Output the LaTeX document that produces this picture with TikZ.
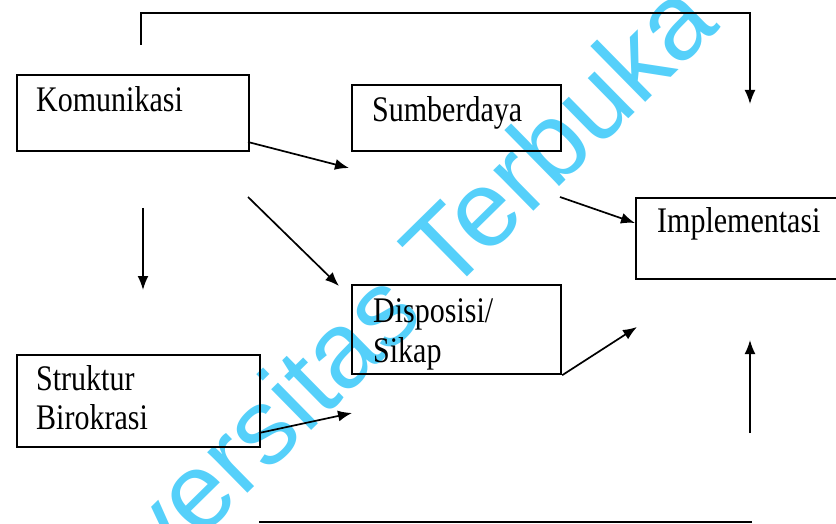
\documentclass[tikz,border=0pt]{standalone}
\usepackage{fontspec}
\setmainfont{Liberation Serif}
\setsansfont{Liberation Sans}
\usetikzlibrary{arrows.meta}
\definecolor{wm}{RGB}{85,208,250}
\newcommand{\lbl}[1]{\scalebox{1}[1.2]{#1}}
\tikzset{
  box/.style={draw, line width=2.2pt, inner sep=0pt, anchor=north west},
  lab/.style={anchor=base west, inner sep=0pt, font=\fontsize{30}{36}\selectfont},
  conn/.style={line width=1.7pt, -{Latex[length=14pt,width=11pt]}},
  plain/.style={line width=1.7pt}
}
\begin{document}
\begin{tikzpicture}[x=1pt,y=-1pt]
\useasboundingbox (0,0) rectangle (836,524);
% watermark
\node[anchor=base west, inner sep=0pt, rotate=44.5, text=wm, font=\fontsize{108}{108}\sffamily] (wmark) at (45,692) {Universitas Terbuka};
% boxes
\node[box, minimum width=232pt, minimum height=76pt] (kom) at (16,74) {};
\node[box, minimum width=209pt, minimum height=66pt] (sum) at (351,84) {};
\node[box, minimum width=215pt, minimum height=81pt] (imp) at (635,197) {};
\node[box, minimum width=209pt, minimum height=89pt] (dis) at (351,284) {};
\node[box, minimum width=243pt, minimum height=92pt] (str) at (16,354) {};
% labels
\node[lab] (tkom) at (36,112) {\lbl{Komunikasi}};
\node[lab] (tsum) at (372,122) {\lbl{Sumberdaya}};
\node[lab] (timp) at (657,233) {\lbl{Implementasi}};
\node[lab] (tdis1) at (373,322) {\lbl{Disposisi/}};
\node[lab] (tdis2) at (373,362) {\lbl{Sikap}};
\node[lab] (tstr1) at (36,390) {\lbl{Struktur}};
\node[lab] (tstr2) at (36,429) {\lbl{Birokrasi}};
% coordinates
\coordinate (a1s) at (248,142);
\coordinate (a1e) at (349,168);
\coordinate (a2s) at (248,197);
\coordinate (a2e) at (339,286);
\coordinate (a3s) at (143,208);
\coordinate (a3e) at (143,290);
\coordinate (a4s) at (560,197);
\coordinate (a4e) at (635,223);
\coordinate (a5e) at (637,327);
\coordinate (a6s) at (259,433);
\coordinate (a6e) at (352,413);
\coordinate (a7s) at (750,433);
\coordinate (a7e) at (750,340);
\coordinate (t0) at (141,45);
\coordinate (t1) at (141,13);
\coordinate (t2) at (750,13);
\coordinate (t3) at (750,104);
\coordinate (b0) at (259,522);
\coordinate (b1) at (752,522);
% connectors
\draw[conn] (a1s) -- (a1e);
\draw[conn] (a2s) -- (a2e);
\draw[conn] (a3s) -- (a3e);
\draw[conn] (a4s) -- (a4e);
\draw[conn] (dis.south east) -- (a5e);
\draw[conn] (a6s) -- (a6e);
\draw[conn] (a7s) -- (a7e);
\draw[conn] (t0) -- (t1) -- (t2) -- (t3);
\draw[plain] (b0) -- (b1);
\end{tikzpicture}
\end{document}
